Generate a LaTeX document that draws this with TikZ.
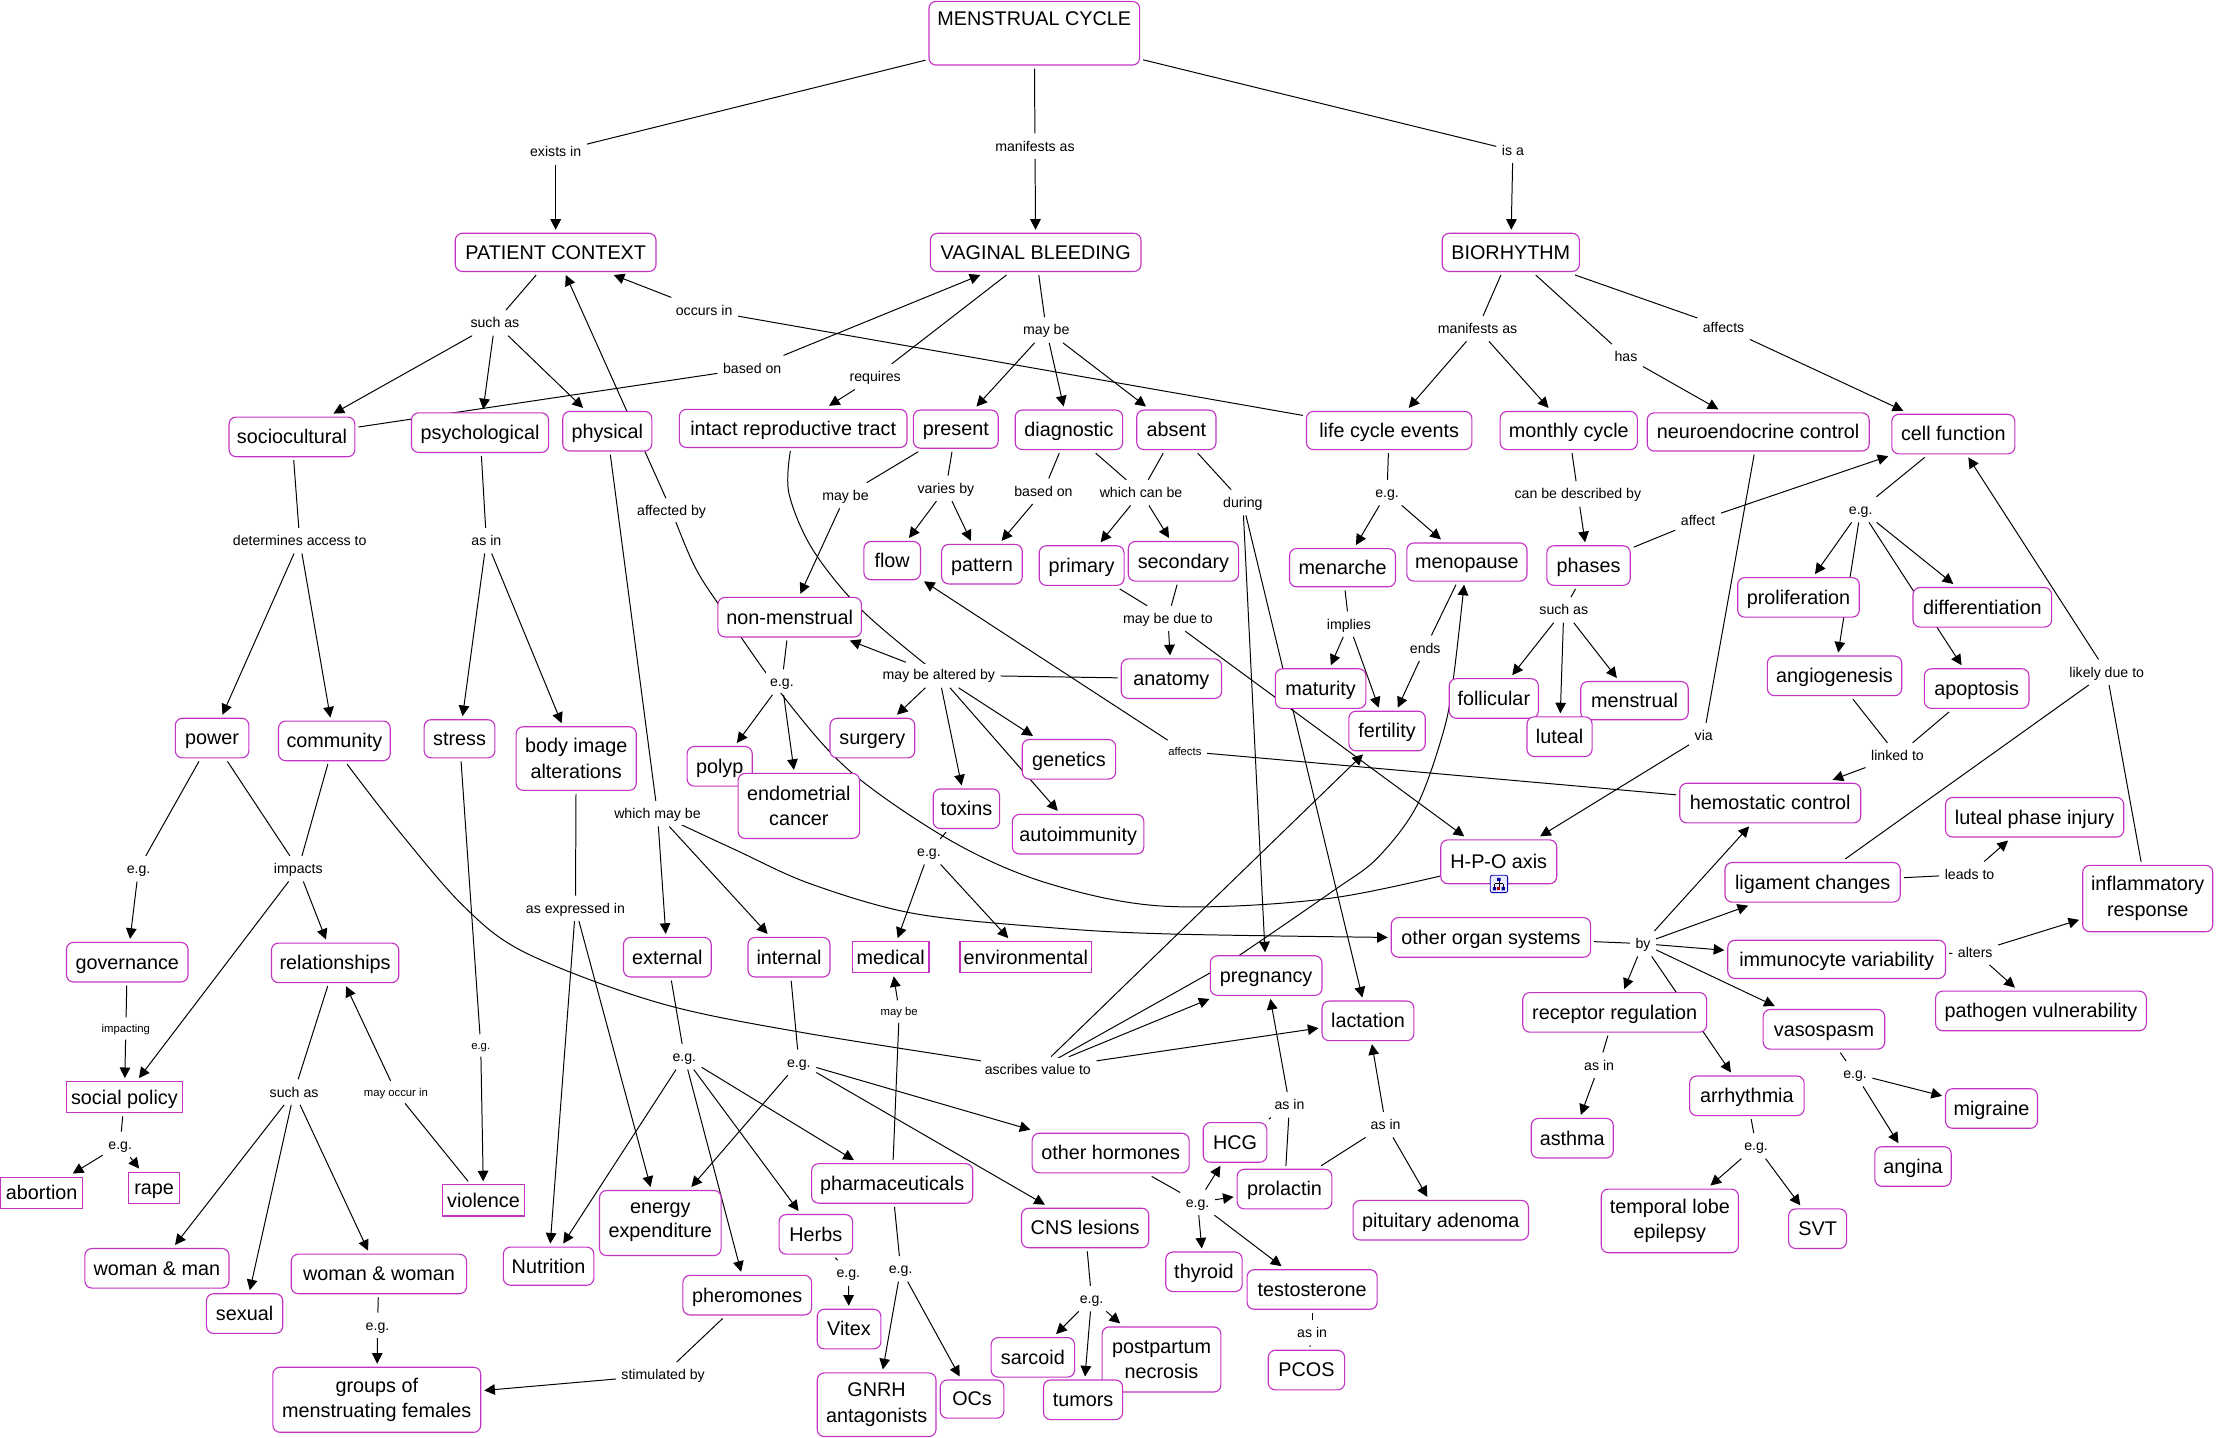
\documentclass[tikz,border=0pt]{standalone}
\usepackage{fontspec}
\setmainfont{Liberation Sans}
\usetikzlibrary{arrows.meta,backgrounds}
\definecolor{bx}{RGB}{196,52,196}
\newcommand\stu{\vphantom{Ag}}
\newcommand\stt{\vphantom{Ag}\rule{0pt}{.9em}}
\tikzset{
 wh/.style 2 args={minimum width=#1pt,minimum height=#2pt},
 base/.style={draw=bx,line width=.8pt,fill=white,inner sep=0pt,outer sep=2.5pt,align=center,text=black,font=\fontsize{14}{18}\selectfont},
 rb/.style={base,rounded corners=5pt},
 sq/.style={base},
 lb/.style={fill=white,inner xsep=3pt,inner ysep=2.5pt,outer sep=1pt,yshift=-.4pt,font=\fontsize{10}{12}\selectfont},
 lbs/.style={lb,font=\fontsize{8}{10}\selectfont},
 ln/.style={line width=.7pt,black},
 ar/.style={ln,-{Triangle[length=7.5pt,width=7.5pt]}},
}
\begin{document}
\begin{tikzpicture}[x=1pt,y=-1pt]
\useasboundingbox (0,0) rectangle (1568,1017);
% concepts
\node[rb,wh={149}{45}] (mc) at (731.5,23.5) {\stu MENSTRUAL CYCLE\\[3pt]~};
\node[rb,wh={142}{27}] (pc) at (393,178.5) {\stt PATIENT CONTEXT};
\node[rb,wh={149}{27}] (vb) at (732.5,178.5) {\stt VAGINAL BLEEDING};
\node[rb,wh={97}{27}] (bio) at (1068.5,178.5) {\stt BIORHYTHM};
\node[rb,wh={89}{28}] (soc) at (206.5,309) {\stt sociocultural};
\node[rb,wh={97}{28}] (psy) at (339.5,306) {\stt psychological};
\node[rb,wh={63}{28}] (phy) at (429.5,305) {\stt physical};
\node[rb,wh={161}{27}] (intact) at (561,303) {\stt intact reproductive tract};
\node[rb,wh={60}{27}] (pres) at (676,303.5) {\stt present};
\node[rb,wh={76}{28}] (diag) at (756,304) {\stt diagnostic};
\node[rb,wh={56}{28}] (abs) at (832,304) {\stt absent};
\node[rb,wh={117}{27}] (lce) at (982.5,304.5) {\stt life cycle events};
\node[rb,wh={97}{27}] (mon) at (1109.5,304.5) {\stt monthly cycle};
\node[rb,wh={157}{27}] (neu) at (1243.5,305.5) {\stt neuroendocrine control};
\node[rb,wh={87}{28}] (cell) at (1381.5,307) {\stt cell function};
\node[rb,wh={59}{28}] (phases) at (1123.5,400) {\stt phases};
\node[rb,wh={40}{27}] (flow) at (631,396.5) {\stt flow};
\node[rb,wh={57}{28}] (patt) at (694.5,399) {\stt pattern};
\node[rb,wh={60}{28}] (prim) at (765,400) {\stt primary};
\node[rb,wh={78}{28}] (sec) at (837,397) {\stt secondary};
\node[rb,wh={101.5}{28}] (nm) at (558.5,436.5) {\stt non-menstrual};
\node[rb,wh={75}{27}] (menar) at (949.5,401.5) {\stt menarche};
\node[rb,wh={85}{27}] (meno) at (1037.5,397.5) {\stt menopause};
\node[rb,wh={86}{28}] (prolif) at (1272,422.5) {\stt proliferation};
\node[rb,wh={98}{28}] (diff) at (1402,429.5) {\stt differentiation};
\node[rb,wh={95}{28}] (angio) at (1297.5,478) {\stt angiogenesis};
\node[rb,wh={74}{28}] (apo) at (1398,487) {\stt apoptosis};
\node[rb,wh={71}{28}] (anat) at (828.5,480) {\stt anatomy};
\node[rb,wh={64}{28}] (mat) at (934,487) {\stt maturity};
\node[rb,wh={63}{28}] (foll) at (1056.5,494) {\stt follicular};
\node[rb,wh={76}{27}] (menst) at (1156,495.5) {\stt menstrual};
\node[rb,wh={46}{28}] (lut) at (1103,521) {\stt luteal};
\node[rb,wh={54}{28}] (fert) at (981,517) {\stt fertility};
\node[rb,wh={60}{28}] (surg) at (617,522) {\stt surgery};
\node[rb,wh={66}{28}] (gen) at (756,537) {\stt genetics};
\node[rb,wh={46}{28}] (polyp) at (509,542) {\stt polyp};
\node[rb,wh={86}{46}] (endo) at (565,570) {\stu endometrial\\cancer};
\node[rb,wh={52}{28}] (power) at (150,522) {\stt power};
\node[rb,wh={79}{28}] (comm) at (236.5,524) {\stt community};
\node[rb,wh={50}{27}] (stress) at (325,522.5) {\stt stress};
\node[rb,wh={85}{45}] (body) at (407.5,536.5) {\stu body image\\alterations};
\node[rb,wh={47}{28}] (tox) at (683.5,572) {\stt toxins};
\node[rb,wh={93}{28}] (auto) at (762.5,590) {\stt autoimmunity};
\node[rb,wh={128}{28}] (hemo) at (1252,568) {\stt hemostatic control};
\node[rb,wh={82}{31}] (hpo) at (1060,609.5) {\stt H-P-O axis};
\node[rb,wh={126}{28}] (lpi) at (1439,578) {\stt luteal phase injury};
\node[rb,wh={124}{28}] (lig) at (1282,624) {\stt ligament changes};
\node[rb,wh={92}{47}] (infl) at (1519,635.5) {\stu inflammatory\\response};
\node[rb,wh={141}{28}] (other) at (1054.5,663) {\stt other organ systems};
\node[rb,wh={154}{27}] (immuno) at (1299,678.5) {\stt immunocyte variability};
\node[rb,wh={86}{28}] (gov) at (90,680.5) {\stt governance};
\node[rb,wh={90}{28}] (rel) at (237,681) {\stt relationships};
\node[rb,wh={62}{28}] (ext) at (472,677) {\stt external};
\node[rb,wh={58}{28}] (intl) at (558,677) {\stt internal};
\node[sq,wh={54}{22}] (med) at (630,677) {\stt medical};
\node[sq,wh={93}{22}] (env) at (725.5,677) {\stt environmental};
\node[rb,wh={79}{28}] (preg) at (895.5,690) {\stt pregnancy};
\node[rb,wh={65}{28}] (lact) at (967.5,722) {\stt lactation};
\node[rb,wh={130}{28}] (rr) at (1142,716) {\stt receptor regulation};
\node[rb,wh={86}{28}] (vaso) at (1290,728) {\stt vasospasm};
\node[rb,wh={149}{28}] (path) at (1443.5,715) {\stt pathogen vulnerability};
\node[sq,wh={82}{22}] (social) at (88,776) {\stt social policy};
\node[sq,wh={58}{22}] (abort) at (29.5,843.5) {\stt abortion};
\node[sq,wh={36}{22}] (rape) at (109,840) {\stt rape};
\node[sq,wh={58}{22}] (viol) at (342,849) {\stt violence};
\node[rb,wh={102}{28}] (wm) at (111,897) {\stt woman \& man};
\node[rb,wh={54}{28}] (sexual) at (173,929) {\stt sexual};
\node[rb,wh={124}{28}] (ww) at (268,901) {\stt woman \& woman};
\node[rb,wh={64}{27}] (nut) at (388,895.5) {\stt Nutrition};
\node[rb,wh={147}{46}] (groups) at (266.5,990) {\stu groups of\\menstruating females};
\node[rb,wh={86}{46}] (energy) at (467,865) {\stu energy\\[-.5pt]expenditure\rule[-6pt]{0pt}{6pt}};
\node[rb,wh={114}{28}] (pharm) at (631,837) {\stt pharmaceuticals};
\node[rb,wh={111}{28}] (oh) at (785.5,815.5) {\stt other hormones};
\node[rb,wh={45}{28}] (hcg) at (873.5,808) {\stt HCG};
\node[rb,wh={67}{28}] (prol) at (908.5,841) {\stt prolactin};
\node[rb,wh={124}{28}] (pit) at (1019,863) {\stt pituitary adenoma};
\node[rb,wh={52}{28}] (herbs) at (577,873) {\stt Herbs};
\node[rb,wh={90}{28}] (cns) at (767.5,868.5) {\stt CNS lesions};
\node[rb,wh={54}{28}] (thy) at (851.5,899.5) {\stt thyroid};
\node[rb,wh={92}{28}] (test) at (928,912) {\stt testosterone};
\node[rb,wh={91}{28}] (pher) at (528.5,916) {\stt pheromones};
\node[rb,wh={45}{28}] (vitex) at (600.5,940) {\stt Vitex};
\node[rb,wh={59}{28}] (sarc) at (730.5,960) {\stt sarcoid};
\node[rb,wh={84}{46}] (post) at (821.5,961.5) {\stu postpartum\\necrosis};
\node[rb,wh={56}{28}] (tum) at (766,990) {\stt tumors};
\node[rb,wh={54}{28}] (pcos) at (924,969) {\stt PCOS};
\node[rb,wh={84}{45}] (gnrh) at (620,993.5) {\stu GNRH\\antagonists};
\node[rb,wh={45}{27}] (ocs) at (687.5,989.5) {\stt OCs};
\node[rb,wh={58}{28}] (asth) at (1112,805) {\stt asthma};
\node[rb,wh={81}{28}] (arr) at (1235.5,775) {\stt arrhythmia};
\node[rb,wh={65}{28}] (mig) at (1408.5,784) {\stt migraine};
\node[rb,wh={54}{28}] (angi) at (1353,825) {\stt angina};
\node[rb,wh={97}{45}] (tle) at (1181,863.5) {\stu temporal lobe\\epilepsy};
\node[rb,wh={41}{28}] (svt) at (1285.5,869) {\stt SVT};
% linking phrases
\node[lb] (Lex) at (393,107) {\stt exists in};
\node[lb] (Lman) at (732,103) {\stt manifests as};
\node[lb] (Lisa) at (1070,106) {\stt is a};
\node[lb] (Lsa1) at (350,228) {\stt such as};
\node[lb] (Lmb1) at (740,233) {\stt may be};
\node[lb] (Lman2) at (1045,232) {\stt manifests as};
\node[lb] (Lhas) at (1150,252) {\stt has};
\node[lb] (Laf1) at (1219,231) {\stt affects};
\node[lb] (Locc) at (498,219) {\stt occurs in};
\node[lb] (Lbo1) at (532,260) {\stt based on};
\node[lb] (Lreq) at (619,266) {\stt requires};
\node[lb] (Ldet) at (212,382) {\stt determines access to};
\node[lb] (Lai1) at (344,382) {\stt as in};
\node[lb] (Laffby) at (475,361) {\stt affected by};
\node[lb] (Lmb2) at (598,350) {\stt may be};
\node[lb] (Lvar) at (669,345) {\stt varies by};
\node[lb] (Lbo2) at (738,347) {\stt based on};
\node[lb] (Lwcb) at (807,348) {\stt which can be};
\node[lb] (Ldur) at (879,355) {\stt during};
\node[lb] (Eg1) at (981,348) {\stt e.g.};
\node[lb] (Lcbd) at (1116,349) {\stt can be described by};
\node[lb] (Laf2) at (1201,368) {\stt affect};
\node[lb] (Eg2) at (1316,360) {\stt e.g.};
\node[lb] (Lsa2) at (1106,431) {\stt such as};
\node[lb] (Lmbd) at (826,437) {\stt may be due to};
\node[lb] (Limp) at (954,441) {\stt implies};
\node[lb] (Lend) at (1008,458) {\stt ends};
\node[lb] (Eg3) at (553,482) {\stt e.g.};
\node[lb] (Lalt) at (664,477) {\stt may be altered by};
\node[lb] (Lldt) at (1490,475) {\stt likely due to};
\node[lb] (Lvia) at (1205,520) {\stt via};
\node[lb] (Llnk) at (1342,534) {\stt linked to};
\node[lbs] (Laf3) at (838,531) {\stt affects};
\node[lb] (Lwmb) at (465,575) {\stt which may be};
\node[lb] (Eg4) at (657,602) {\stt e.g.};
\node[lb] (Limpc) at (211,614) {\stt impacts};
\node[lb] (Eg5) at (98,614) {\stt e.g.};
\node[lb] (Laei) at (407,642) {\stt as expressed in};
\node[lb] (Lby) at (1162,667) {\stt by};
\node[lb] (Lled) at (1393,618) {\stt leads to};
\node[lb] (Lalr) at (1397,673) {\stt alters};
\node[lbs] (Lmb3) at (636,715) {\stt may be};
\node[lbs] (Lipg) at (89,727) {\stt impacting};
\node[lbs] (Eg6) at (340,739) {\stt e.g.};
\node[lb] (Lsa3) at (208,772) {\stt such as};
\node[lbs] (Lmoi) at (280,772) {\stt may occur in};
\node[lb] (Lasc) at (734,756) {\stt ascribes value to};
\node[lb] (Eg7) at (484,747) {\stt e.g.};
\node[lb] (Eg8) at (565,751) {\stt e.g.};
\node[lb] (Lai2) at (912,781) {\stt as in};
\node[lb] (Lai3) at (980,795) {\stt as in};
\node[lb] (Lai4) at (1131,753) {\stt as in};
\node[lb] (Eg9) at (1312,759) {\stt e.g.};
\node[lb] (Eg10) at (1242,810) {\stt e.g.};
\node[lb] (Eg11) at (85,809) {\stt e.g.};
\node[lb] (Eg12) at (847,850) {\stt e.g.};
\node[lb] (Eg13) at (600,900) {\stt e.g.};
\node[lb] (Eg14) at (637,897) {\stt e.g.};
\node[lb] (Eg15) at (772,918) {\stt e.g.};
\node[lb] (Lai5) at (928,942) {\stt as in};
\node[lb] (Eg16) at (267,937) {\stt e.g.};
\node[lb] (Lstm) at (469,972) {\stt stimulated by};
% icon on H-P-O axis
\draw[rounded corners=1.5pt,draw=blue!70!black,fill=blue!8,line width=.6pt] (1054,619) rectangle (1066.3,631.3);
\draw[black,line width=.5pt] (1060.1,622) -- (1060.1,628) (1057,625) -- (1063.2,625) (1057,625) -- (1057,628) (1063.2,625) -- (1063.2,628);
\fill[blue!60!black] (1058.8,620.8) rectangle (1061.4,623) (1055.8,627.5) rectangle (1058.2,629.7) (1062,627.5) rectangle (1064.4,629.7);
\fill[red!70!black] (1059,627.5) rectangle (1061.2,629.7);
% connectors
\begin{scope}[on background layer]
\fill[white] (0,0) rectangle (1568,1017);
\draw[ln] (mc)--(Lex); \draw[ar] (Lex)--(pc);
\draw[ln] (mc)--(Lman); \draw[ar] (Lman)--(vb);
\draw[ln] (mc)--(Lisa); \draw[ar] (Lisa)--(bio);
\draw[ln] (pc)--(Lsa1); \draw[ar] (Lsa1)--(soc); \draw[ar] (Lsa1)--(psy); \draw[ar] (Lsa1)--(phy);
\draw[ln] (vb)--(Lmb1); \draw[ar] (Lmb1)--(pres); \draw[ar] (Lmb1)--(diag); \draw[ar] (Lmb1)--(abs);
\draw[ln] (vb)--(Lreq); \draw[ar] (Lreq)--(intact);
\draw[ln] (soc)--(Lbo1); \draw[ar] (Lbo1)--(vb);
\draw[ln] (lce)--(Locc); \draw[ar] (Locc)--(pc);
\draw[ar] (Laffby)--(pc);
\draw[ln] plot[smooth,tension=.55] coordinates {(Laffby.center) (491,400) (510,430) (556,495) (603,547) (675,596) (742,625) (825,641) (943,635) (hpo.center)};
\draw[ln] (bio)--(Lman2); \draw[ar] (Lman2)--(lce); \draw[ar] (Lman2)--(mon);
\draw[ln] (bio)--(Lhas); \draw[ar] (Lhas)--(neu);
\draw[ln] (bio)--(Laf1); \draw[ar] (Laf1)--(cell);
\draw[ln] (soc)--(Ldet); \draw[ar] (Ldet)--(power); \draw[ar] (Ldet)--(comm);
\draw[ln] (psy)--(Lai1); \draw[ar] (Lai1)--(stress); \draw[ar] (Lai1)--(body);
\draw[ln] (pres)--(Lmb2); \draw[ar] (Lmb2)--(nm);
\draw[ln] (pres)--(Lvar); \draw[ar] (Lvar)--(flow); \draw[ar] (Lvar)--(patt);
\draw[ln] (diag)--(Lbo2); \draw[ar] (Lbo2)--(patt);
\draw[ln] (diag)--(Lwcb); \draw[ln] (abs)--(Lwcb); \draw[ar] (Lwcb)--(prim); \draw[ar] (Lwcb)--(sec);
\draw[ln] (abs)--(Ldur); \draw[ar] (Ldur)--(preg); \draw[ar] (Ldur)--(lact);
\draw[ln] (prim)--(Lmbd); \draw[ln] (sec)--(Lmbd); \draw[ar] (Lmbd)--(anat); \draw[ar] (Lmbd)--(hpo);
\draw[ln] (lce)--(Eg1); \draw[ar] (Eg1)--(menar); \draw[ar] (Eg1)--(meno);
\draw[ln] (mon)--(Lcbd); \draw[ar] (Lcbd)--(phases);
\draw[ln] (phases)--(Laf2); \draw[ar] (Laf2)--(cell);
\draw[ln] (phases)--(Lsa2); \draw[ar] (Lsa2)--(foll); \draw[ar] (Lsa2)--(lut); \draw[ar] (Lsa2)--(menst);
\draw[ln] (cell)--(Eg2); \draw[ar] (Eg2)--(prolif); \draw[ar] (Eg2)--(diff); \draw[ar] (Eg2)--(angio); \draw[ar] (Eg2)--(apo);
\draw[ln] (menar)--(Limp); \draw[ar] (Limp)--(mat); \draw[ar] (Limp)--(fert);
\draw[ln] (meno)--(Lend); \draw[ar] (Lend)--(fert);
\draw[ln] (nm)--(Eg3); \draw[ar] (Eg3)--(polyp); \draw[ar] (Eg3)--(endo);
\draw[ln] plot[smooth,tension=.55] coordinates {([xshift=-2pt]intact.south) (558,349) (575,389) (610,432) (Lalt.center)};
\draw[ln] (anat)--(Lalt);
\draw[ar] (Lalt)--(nm); \draw[ar] (Lalt)--(surg); \draw[ar] (Lalt)--(gen); \draw[ar] (Lalt)--(tox); \draw[ar] (Lalt)--(auto);
\draw[ln] (hemo)--(Laf3); \draw[ar] (Laf3)--(flow);
\draw[ln] (neu)--(Lvia); \draw[ar] (Lvia)--(hpo);
\draw[ln] (angio)--(Llnk); \draw[ln] (apo)--(Llnk); \draw[ar] (Llnk)--(hemo);
\draw[ln] (lig)--(Lldt); \draw[ln] (infl)--(Lldt); \draw[ar] (Lldt)--(cell);
\draw[ln] (phy)--(Lwmb); \draw[ar] (Lwmb)--(ext); \draw[ar] (Lwmb)--(intl);
\draw[ar] plot[smooth,tension=.55] coordinates {(Lwmb.center) (520,601) (573,625) (646,646) (742,656) (825,660.5) (other.west)};
\draw[ln] (tox)--(Eg4); \draw[ar] (Eg4)--(med); \draw[ar] (Eg4)--(env);
\draw[ln] (power)--(Eg5); \draw[ar] (Eg5)--(gov);
\draw[ln] (power)--(Limpc); \draw[ln] (comm)--(Limpc); \draw[ar] (Limpc)--(rel); \draw[ar] (Limpc)--(social);
\draw[ln] plot[smooth,tension=.55] coordinates {([xshift=9pt]comm.south) (281.5,587) (328,641) (372,674) (465,709) (566,730) (Lasc.center)};
\draw[ln] (body)--(Laei); \draw[ar] (Laei)--(nut); \draw[ar] (Laei)--(energy);
\draw[ln] (stress)--(Eg6); \draw[ar] (Eg6)--(viol);
\draw[ln] (other)--(Lby); \draw[ar] (Lby)--(hemo); \draw[ar] (Lby)--(lig); \draw[ar] (Lby)--(immuno); \draw[ar] (Lby)--(vaso); \draw[ar] (Lby)--(rr); \draw[ar] (Lby)--(arr);
\draw[ln] (lig)--(Lled); \draw[ar] (Lled)--(lpi);
\draw[ln] (immuno)--(Lalr); \draw[ar] (Lalr)--(infl); \draw[ar] (Lalr)--(path);
\draw[ln] (pharm)--(Lmb3); \draw[ar] (Lmb3)--(med);
\draw[ln] (gov)--(Lipg); \draw[ar] (Lipg)--(social);
\draw[ln] (social)--(Eg11); \draw[ar] (Eg11)--(abort); \draw[ar] (Eg11)--(rape);
\draw[ln] (rel)--(Lsa3); \draw[ar] (Lsa3)--(wm); \draw[ar] (Lsa3)--(sexual); \draw[ar] (Lsa3)--(ww);
\draw[ln] (viol)--(Lmoi); \draw[ar] (Lmoi)--(rel);
\draw[ln] (ww)--(Eg16); \draw[ar] (Eg16)--(groups);
\draw[ln] (pher)--(Lstm); \draw[ar] (Lstm)--(groups);
\draw[ar] (Lasc)--(preg); \draw[ar] (Lasc)--(lact); \draw[ar] (Lasc)--(fert);
\draw[ar] plot[smooth,tension=.55] coordinates {(Lasc.center) (856,688) (876,676) (943,630) (974,607) (1002,570) (1021,517) (1028,479) ([xshift=-2pt]meno.south)};
\draw[ln] (ext)--(Eg7); \draw[ar] (Eg7)--(nut); \draw[ar] (Eg7)--(pher); \draw[ar] (Eg7)--(herbs); \draw[ar] (Eg7)--(pharm);
\draw[ln] (intl)--(Eg8); \draw[ar] (Eg8)--(energy); \draw[ar] (Eg8)--(oh); \draw[ar] (Eg8)--(cns);
\draw[ln] (pharm)--(Eg14); \draw[ar] (Eg14)--(gnrh); \draw[ar] (Eg14)--(ocs);
\draw[ln] (herbs)--(Eg13); \draw[ar] (Eg13)--(vitex);
\draw[ln] (cns)--(Eg15); \draw[ar] (Eg15)--(sarc); \draw[ar] (Eg15)--(tum); \draw[ar] (Eg15)--(post);
\draw[ln] (oh)--(Eg12); \draw[ar] (Eg12)--(hcg); \draw[ar] (Eg12)--(prol); \draw[ar] (Eg12)--(thy); \draw[ar] (Eg12)--(test);
\draw[ln] (test)--(Lai5); \draw[ln] (Lai5)--(pcos);
\draw[ln] (prol)--(Lai2); \draw[ln] (hcg)--(Lai2); \draw[ar] (Lai2)--(preg);
\draw[ln] (prol)--(Lai3); \draw[ar] (Lai3)--(lact); \draw[ar] (Lai3)--(pit);
\draw[ln] (rr)--(Lai4); \draw[ar] (Lai4)--(asth);
\draw[ln] (vaso)--(Eg9); \draw[ar] (Eg9)--(mig); \draw[ar] (Eg9)--(angi);
\draw[ln] (arr)--(Eg10); \draw[ar] (Eg10)--(tle); \draw[ar] (Eg10)--(svt);
\end{scope}
\end{tikzpicture}
\end{document}
